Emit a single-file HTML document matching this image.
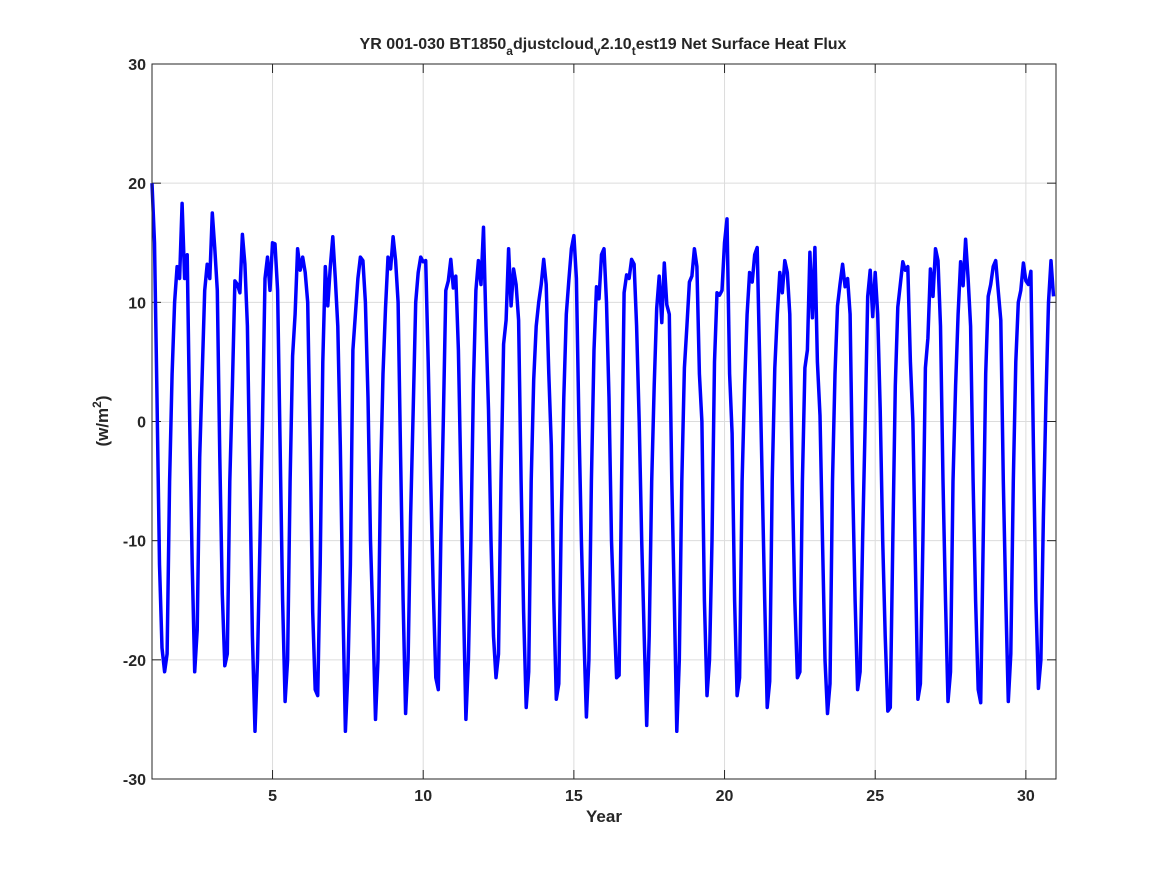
<!DOCTYPE html>
<html><head><meta charset="utf-8"><style>
body{margin:0;background:#fff}
svg text{font-family:"Liberation Sans",sans-serif;font-weight:bold;fill:#262626}
</style></head><body>
<svg id="chart" width="1167" height="875">
<rect width="1167" height="875" fill="#fff"/>
<g id="grid"></g>
<g id="ticks"></g>
<path id="series" fill="none" stroke="#0000ff" stroke-width="3.5" stroke-linejoin="round"/>
<rect x="152" y="64" width="904" height="715" fill="none" stroke="#262626" stroke-width="1"/>
<text x="603" y="49" text-anchor="middle" font-size="16">YR 001-030 BT1850<tspan font-size="12" dy="6">a</tspan><tspan dy="-6">djustcloud</tspan><tspan font-size="12" dy="6">v</tspan><tspan dy="-6">2.10</tspan><tspan font-size="12" dy="6">t</tspan><tspan dy="-6">est19 Net Surface Heat Flux</tspan></text>
<text x="604" y="822" text-anchor="middle" font-size="17">Year</text>
<text transform="translate(108,421) rotate(-90)" text-anchor="middle" font-size="17">(w/m<tspan font-size="12" dy="-7">2</tspan><tspan dy="7">)</tspan></text>
</svg>
<script>
const xTicks=[5,10,15,20,25,30];
const yTicks=[-30,-20,-10,0,10,20,30];
const values=[
20,15,2,-12,-19,-21,-19.5,-5,4,10,13,12,
18.3,12,14,0,-12,-21,-17.5,-3,4,11,13.2,12,
17.5,14.5,11,-3,-14.5,-20.5,-19.5,-5,3,11.8,11.5,10.8,
15.7,13.2,8,-5,-18,-26,-20,-10,0,12,13.8,11,
15,14.9,11,-2,-15,-23.5,-20,-5,5.5,9,14.5,12.7,
13.8,12.5,10,-2,-16,-22.5,-23,-12,5,13,9.7,13,
15.5,12,8,-2,-15,-26,-21,-12,6,9,12,13.8,
13.5,10,2,-10,-17,-25,-20,-5,4,9.5,13.8,12.8,
15.5,13.5,10,-3,-15,-24.5,-20,-8,1,10,12.5,13.8,
13.4,13.5,5,-5,-14,-21.5,-22.5,-10,0,11,11.8,13.6,
11.2,12.2,6,-5,-15,-25,-20,-10,3,11,13.5,11.5,
16.3,8,1,-10,-18,-21.5,-19.5,-5,6.5,8.5,14.5,9.7,
12.8,11.5,8.5,-5,-16,-24,-21,-5,3.5,8,10,11.5,
13.6,11.5,4,-2,-15,-23.3,-22,-8,2,9,11.8,14.5,
15.6,12,0,-10,-18,-24.8,-20,-5,6,11.3,10.3,14,
14.5,10,2,-10,-16,-21.5,-21.3,-5,10.8,12.3,12,13.6,
13.2,8,0,-10,-18,-25.5,-18,-5,3,9.5,12.2,8.3,
13.3,9.8,9,-5,-15,-26,-20,-5,4.5,8,11.7,12.2,
14.5,13,4,0,-15,-23,-20,-10,5,10.8,10.6,11,
15,17,4,-1,-15,-23,-21.5,-5,3,9,12.5,11.7,
14,14.6,5,-5,-15,-24,-21.8,-5,4.5,9,12.5,10.8,
13.5,12.5,9,-5,-15,-21.5,-21,-5,4.5,6,14.2,8.7,
14.6,5,0.5,-10,-20,-24.5,-22,-5,4,9.7,11.5,13.2,
11.3,12,9,-5,-15,-22.5,-21,-10,0,10.5,12.7,8.8,
12.5,9,1,-10,-18,-24.3,-24,-10,3,9.6,11.5,13.4,
12.7,13,5,0,-12,-23.3,-22,-10,4.5,7,12.8,10.5,
14.5,13.5,8,-5,-15,-23.5,-21,-5,3,9,13.4,11.4,
15.3,12,8,-5,-15,-22.5,-23.6,-10,4,10.5,11.5,13,
13.5,11,8.5,-5,-15,-23.5,-19.5,-5,5,10,11,13.3,
11.8,11.5,12.6,-2,-15,-22.4,-20,-8,2,10,13.5,10.5
];
const xMin=1,xMax=31,yMin=-30,yMax=30;
const L=152,R=1056,T=64,B=779;
const sx=v=>L+(v-xMin)/(xMax-xMin)*(R-L);
const sy=v=>B-(v-yMin)/(yMax-yMin)*(B-T);
const NS='http://www.w3.org/2000/svg';
const grid=document.getElementById('grid'),ticks=document.getElementById('ticks');
function ln(p,x1,y1,x2,y2,c){const e=document.createElementNS(NS,'line');e.setAttribute('x1',x1);e.setAttribute('y1',y1);e.setAttribute('x2',x2);e.setAttribute('y2',y2);e.setAttribute('stroke',c);p.appendChild(e);return e;}
xTicks.forEach(v=>{const x=sx(v);
const g=ln(grid,x,T,x,B,'#dcdcdc');


ln(ticks,x,B,x,B-9,'#262626');ln(ticks,x,T,x,T+9,'#262626');
const t=document.createElementNS(NS,'text');t.setAttribute('x',x);t.setAttribute('y',B+22);t.setAttribute('text-anchor','middle');t.setAttribute('font-size','16');t.textContent=v;


ticks.appendChild(t);});
yTicks.forEach(v=>{const y=sy(v);
const g=ln(grid,L,y,R,y,'#dcdcdc');


ln(ticks,L,y,L+9,y,'#262626');ln(ticks,R,y,R-9,y,'#262626');
const t=document.createElementNS(NS,'text');t.setAttribute('x',L-6);t.setAttribute('y',y+6);t.setAttribute('text-anchor','end');t.setAttribute('font-size','16');t.textContent=v;


ticks.appendChild(t);});
let d='';values.forEach((v,i)=>{const x=xMin+i/12;d+=(i?'L':'M')+sx(x).toFixed(1)+','+sy(v).toFixed(1);});
document.getElementById('series').setAttribute('d',d);
</script>
</body></html>
